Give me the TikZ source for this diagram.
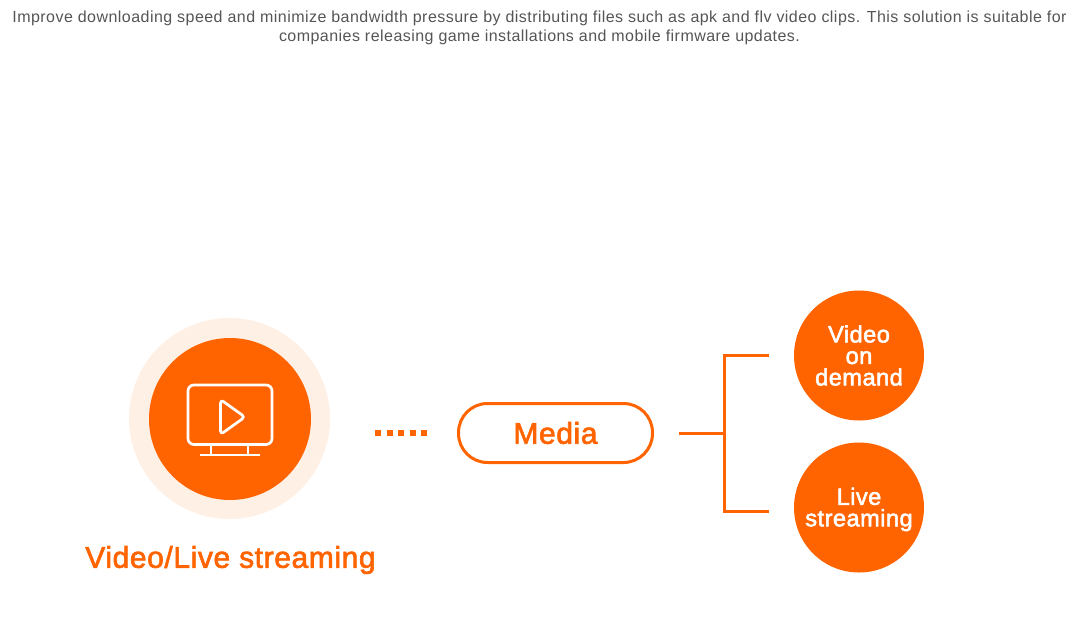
\documentclass[tikz,border=0pt]{standalone}
\usepackage{fontspec}
\setmainfont{Liberation Sans}
\newfontfamily\labelfont[FakeBold=2.2, LetterSpace=2]{Liberation Sans}
\newfontfamily\captionfont[LetterSpace=2.9]{Liberation Sans}
\usetikzlibrary{positioning}
\definecolor{brandorange}{HTML}{FF6400}
\definecolor{ringpeach}{HTML}{FFF0E5}
\definecolor{captiongray}{HTML}{555555}
\tikzset{
    solidcircle/.style={circle, fill=brandorange, text=white, inner sep=0pt, minimum size=130pt, align=center, font=\labelfont\fontsize{23.6}{21.5}\selectfont},
    linkline/.style={draw=brandorange, line width=3pt},
    iconline/.style={draw=white, line width=2.7pt, line join=round},
}

\begin{document}
\begin{tikzpicture}[x=1pt, y=-1pt]
        \useasboundingbox (0,0) rectangle (1092,624);
        \node[align=center, text=captiongray, font=\captionfont\fontsize{16}{19}\selectfont] (caption) at (539.5,28)
            {Improve downloading speed and minimize bandwidth pressure by distributing files such as apk and flv video clips. This solution is suitable for\\
            companies releasing game installations and mobile firmware updates.};
        % left badge
        \node[circle, fill=ringpeach, inner sep=0pt, minimum size=201pt] (ring) at (229.5,418.5) {};
        \node[circle, fill=brandorange, inner sep=0pt, minimum size=162pt] (badge) at (230,419) {};
        \draw[iconline, rounded corners=6pt] (188,385) rectangle (272,444.5);
        \draw[iconline, rounded corners=3.5pt] (220.5,399.5) -- (245,417) -- (220.5,434.5) -- cycle;
        \draw[iconline] (211,445) -- (211,455);
        \draw[iconline] (248,445) -- (248,455);
        \draw[iconline] (200,455) -- (260,455);
        \node[text=brandorange, font=\labelfont\fontsize{30}{34}\selectfont] (title) at (230.5,560) {Video/Live streaming};
        % dots
        \coordinate (dotstart) at (375,433);
        \coordinate (dotend) at (428,433);
        \draw[brandorange, line width=6pt, dash pattern=on 6pt off 5.5pt] (dotstart) -- (dotend);
        % media pill
        \node[draw=brandorange, line width=3pt, rounded corners=29pt, minimum width=194pt, minimum height=59pt, inner sep=0pt, text=brandorange, font=\labelfont\fontsize{30}{34}\selectfont] (media) at (555.5,433) {Media};
        % right side
        \node[solidcircle] (demand) at (859,355.5) {Video\\on\\demand};
        \node[solidcircle] (live) at (859,507.5) {\rule{0pt}{21pt}Live\\streaming};
        \coordinate (stem) at (679,433.5);
        \coordinate (fork) at (724,433.5);
        \coordinate (upper) at (769,355.5);
        \coordinate (lower) at (769,511);
        \draw[linkline] (stem) -- (fork);
        \draw[linkline] (upper) -| (fork) |- (lower);
\end{tikzpicture}
\end{document}
